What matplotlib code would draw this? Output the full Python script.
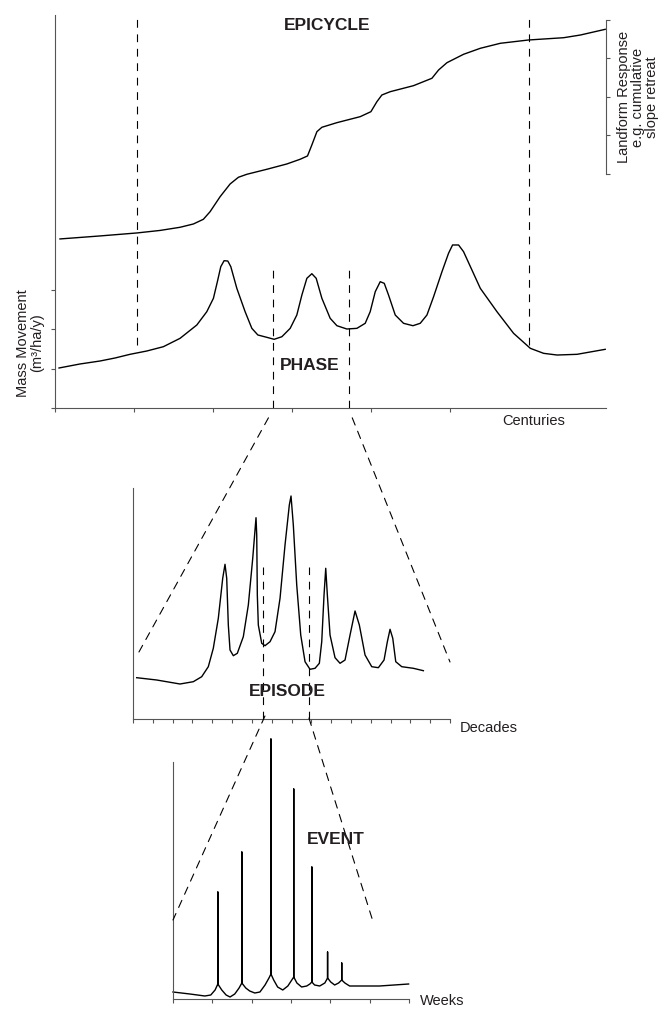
import matplotlib
matplotlib.use("Agg")
import matplotlib.pyplot as plt
from matplotlib.patches import ConnectionPatch

plt.rcParams['font.family'] = ['Liberation Sans', 'DejaVu Sans']

# ---------------- data ----------------
# PHASE panel: mass movement vs time in centuries
mass_t = [0.051, 0.316, 0.570, 0.759, 0.949, 1.161, 1.371, 1.582, 1.794, 1.920, 2.004, 2.054,
          2.097, 2.139, 2.186, 2.224, 2.300, 2.405, 2.490, 2.566, 2.680, 2.772, 2.870, 2.975,
          3.059, 3.123, 3.186, 3.249, 3.304, 3.376, 3.481, 3.566, 3.692, 3.819, 3.924, 3.987,
          4.051, 4.114, 4.165, 4.219, 4.304, 4.409, 4.528, 4.620, 4.705, 4.789, 4.895, 4.978,
          5.029, 5.105, 5.168, 5.380, 5.591, 5.801, 6.013, 6.181, 6.351, 6.604, 6.960]
mass_v = [1.018, 1.120, 1.196, 1.272, 1.366, 1.450, 1.560, 1.773, 2.112, 2.450, 2.791, 3.214,
          3.596, 3.748, 3.740, 3.596, 3.045, 2.450, 2.027, 1.858, 1.798, 1.748, 1.814, 2.027,
          2.366, 2.875, 3.300, 3.417, 3.300, 2.791, 2.282, 2.094, 2.010, 2.027, 2.155, 2.450,
          2.959, 3.214, 3.172, 2.875, 2.366, 2.155, 2.094, 2.155, 2.366, 2.832, 3.468, 3.936,
          4.148, 4.148, 3.978, 3.045, 2.450, 1.900, 1.518, 1.391, 1.348, 1.366, 1.493]

# cumulative landform response (right axis)
land_t = [0.063, 0.570, 1.038, 1.329, 1.582, 1.751, 1.877, 1.962, 2.089, 2.215, 2.320, 2.427,
          2.680, 2.933, 3.101, 3.194, 3.249, 3.313, 3.376, 3.566, 3.861, 3.996, 4.072, 4.135,
          4.241, 4.535, 4.768, 4.852, 4.958, 5.168, 5.380, 5.633, 5.991, 6.434, 6.646, 6.960]
land_v = [-1.688, -1.610, -1.532, -1.467, -1.385, -1.299, -1.177, -0.979, -0.589, -0.260,
          -0.086, -0.008, 0.122, 0.260, 0.382, 0.468, 0.753, 1.099, 1.213, 1.333, 1.489, 1.618,
          1.878, 2.052, 2.138, 2.294, 2.486, 2.701, 2.891, 3.109, 3.265, 3.395, 3.481, 3.540,
          3.610, 3.758]

# EPISODE panel: time in decades
dec_t = [0.187, 1.196, 2.372, 3.044, 3.468, 3.801, 4.053, 4.306, 4.528, 4.644, 4.730, 4.811,
         4.897, 5.063, 5.265, 5.568, 5.821, 6.043, 6.209, 6.245, 6.275, 6.325, 6.497, 6.663,
         6.916, 7.168, 7.421, 7.673, 7.890, 7.976, 8.092, 8.264, 8.466, 8.683, 8.935, 9.188,
         9.405, 9.526, 9.642, 9.728, 9.809, 9.945, 10.197, 10.450, 10.702, 10.955, 11.207,
         11.424, 11.712, 12.050, 12.384, 12.671, 12.838, 12.974, 13.111, 13.262, 13.565,
         14.151, 14.656]
dec_v = [4.13, 3.90, 3.50, 3.73, 4.23, 5.23, 7.07, 10.07, 14.07, 15.47, 14.07, 9.40,
         6.90, 6.33, 6.57, 8.23, 11.40, 16.07, 20.13, 18.40, 12.40, 9.40, 7.57, 7.33,
         7.73, 8.73, 12.07, 17.40, 21.40, 22.30, 19.40, 13.40, 8.40, 5.73, 4.97, 5.07,
         5.57, 7.73, 12.40, 15.07, 12.40, 8.40, 6.13, 5.57, 5.90, 8.40, 10.80,
         9.40, 6.40, 5.23, 5.13, 5.90, 7.73, 8.97, 8.07, 5.73, 5.23,
         5.07, 4.83]

# EVENT panel: time in weeks (spikes go up and back at the same time)
wk_t = [0.00, 0.43, 0.81, 0.96, 1.07, 1.14, 1.14, 1.14, 1.24, 1.35, 1.45, 1.57, 1.68,
        1.75, 1.75, 1.75, 1.85, 1.95, 2.08, 2.21, 2.34, 2.44, 2.49, 2.49, 2.49, 2.56,
        2.66, 2.79, 2.92, 3.02, 3.07, 3.07, 3.07, 3.15, 3.27, 3.40, 3.48, 3.53, 3.53,
        3.53, 3.60, 3.73, 3.86, 3.93, 3.93, 3.93, 4.01, 4.11, 4.21, 4.29, 4.29, 4.29,
        4.37, 4.49, 5.25, 5.99]
wk_v = [0.7, 0.5, 0.3, 0.4, 0.9, 1.5, 10.7, 1.5, 0.9, 0.4, 0.2, 0.5, 1.1,
        1.6, 14.7, 1.6, 1.1, 0.8, 0.6, 0.7, 1.4, 2.1, 2.5, 26.0, 2.5, 1.9,
        1.2, 0.9, 1.3, 1.9, 2.2, 21.0, 2.2, 1.6, 1.2, 1.3, 1.5, 1.7, 13.2,
        1.7, 1.4, 1.3, 1.6, 2.1, 4.7, 2.1, 1.7, 1.4, 1.6, 1.9, 3.6, 1.9,
        1.6, 1.3, 1.3, 1.5]

epicycle_bounds = [1.04, 6.00]
phase_bounds = [2.76, 3.72]
episode_bounds = [6.58, 8.90]

# ---------------- figure ----------------
W, H = 663, 1010
fig = plt.figure(figsize=(W / 100, H / 100), dpi=100)
grey = '#555555'
ink = '#231f20'
dash = (0, (7, 6))


def rect(x0, x1, ytop, ybot):
    return [x0 / W, 1 - ybot / H, (x1 - x0) / W, (ybot - ytop) / H]


def style(ax):
    for s in ['top', 'right']:
        ax.spines[s].set_visible(False)
    for s in ['left', 'bottom']:
        ax.spines[s].set_color(grey)
        ax.spines[s].set_linewidth(0.8)
    ax.tick_params(direction='out', length=3, width=0.8, color=grey,
                   labelleft=False, labelbottom=False)
    ax.patch.set_alpha(0)


# PHASE / EPICYCLE panel
ax1 = fig.add_axes(rect(55, 606, 15, 408))
style(ax1)
ax1.set_xlim(0, 6.97)
ax1.set_ylim(0, 10)
ax1.set_xticks(range(6))
ax1.set_yticks(range(4))
ax1.plot(mass_t, mass_v, color='black', lw=1.0)
ax1.vlines(epicycle_bounds, 1.60, 10.05, colors='black', lw=0.8, linestyles=dash, clip_on=False)
ax1.vlines(phase_bounds, 0, 3.52, colors='black', lw=0.8, linestyles=dash)

axr = ax1.twinx()
for s in ['top', 'left', 'bottom']:
    axr.spines[s].set_visible(False)
axr.spines['right'].set_bounds(0, 4)
axr.spines['right'].set_color(grey)
axr.spines['right'].set_linewidth(0.8)
axr.set_ylim(-6.08, 4.13)
axr.set_yticks(range(5))
axr.tick_params(direction='out', length=3, width=0.8, color=grey, labelright=False)
axr.plot(land_t, land_v, color='black', lw=1.0)

# EPISODE panel
ax2 = fig.add_axes(rect(133, 450, 488, 719))
style(ax2)
ax2.set_xlim(0, 16)
ax2.set_ylim(0, 23.1)
ax2.set_xticks(range(17))
ax2.set_yticks([])
ax2.plot(dec_t, dec_v, color='black', lw=1.0)
ax2.vlines(episode_bounds, 0, 15.2, colors='black', lw=0.8, linestyles=dash)

# EVENT panel
ax3 = fig.add_axes(rect(173, 409, 734, 999))
style(ax3)
ax3.set_xlim(0, 6)
ax3.set_ylim(0, 26.5)
ax3.spines['left'].set_bounds(0, 23.7)
ax3.set_xticks(range(7))
ax3.set_yticks([])
ax3.plot(wk_t, wk_v, color='black', lw=1.0, clip_on=False)

# zoom connectors
for a, b in [((2.70, -0.25), (0.30, 6.7)), ((3.76, -0.25), (16.0, 5.7))]:
    fig.add_artist(ConnectionPatch(a, b, coordsA=ax1.transData, coordsB=ax2.transData,
                                   color='black', lw=0.8, linestyle=dash))
for a, b in [((6.66, 0.3), (0.0, 7.9)), ((8.88, 0.1), (5.08, 7.8))]:
    fig.add_artist(ConnectionPatch(a, b, coordsA=ax2.transData, coordsB=ax3.transData,
                                   color='black', lw=0.8, linestyle=dash))

# labels
def ftext(x, y, s, **kw):
    fig.text(x / W, 1 - y / H, s, color=ink, **kw)


bold = dict(fontsize=12.5, fontweight='bold', ha='center', va='center')
ftext(327, 25.5, 'EPICYCLE', **bold)
ftext(310, 365, 'PHASE', **bold)
ftext(287, 691.5, 'EPISODE', **bold)
ftext(335.5, 840, 'EVENT', **bold)

ftext(30, 343, 'Mass Movement\n(m³/ha/y)', fontsize=10.5, rotation=90,
      ha='center', va='center', linespacing=1.0, multialignment='center')
ftext(638, 97, 'Landform Response\ne.g. cumulative\nslope retreat', fontsize=10.5,
      rotation=90, ha='center', va='center', linespacing=1.0, multialignment='center')
ftext(502, 421, 'Centuries', fontsize=10.5, ha='left', va='center')
ftext(460, 728, 'Decades', fontsize=10.5, ha='left', va='center')
ftext(420, 1008, 'Weeks', fontsize=10.5, ha='left', va='bottom')

fig.savefig('out.png', dpi=100)
